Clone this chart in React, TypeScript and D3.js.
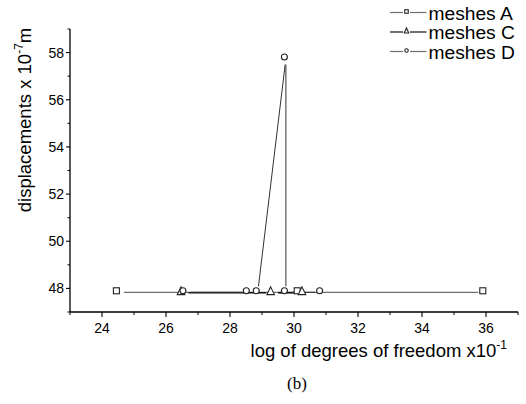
import React from "react";
import * as d3 from "d3";

const xMajorTicks = [24, 26, 28, 30, 32, 34, 36];
const xMinorTicks = [23, 25, 27, 29, 31, 33, 35, 37];
const yMajorTicks = [48, 50, 52, 54, 56, 58];
const yMinorTicks = [47, 49, 51, 53, 55, 57, 59];

const meshesAx = [24.45, 30.1, 35.9];
const meshesAy = [47.9, 47.9, 47.9];
const meshesCx = [26.47, 29.27, 30.25];
const meshesCy = [47.88, 47.88, 47.88];
const meshesDx = [26.53, 28.51, 28.82, 29.7, 29.7, 30.8];
const meshesDy = [47.9, 47.9, 47.9, 57.81, 47.9, 47.9];

const W = 526;
const H = 404;
const x = d3.scaleLinear().domain([23, 37]).range([70, 518]);
const y = d3.scaleLinear().domain([47, 59]).range([312, 29]);

type Marker = "square" | "triangle" | "circle";

function gapSegments(xs: number[], ys: number[], gap: number) {
  const segs: [number, number, number, number][] = [];
  for (let i = 0; i < xs.length - 1; i++) {
    const x1 = x(xs[i]), y1 = y(ys[i]), x2 = x(xs[i + 1]), y2 = y(ys[i + 1]);
    const dx = x2 - x1, dy = y2 - y1;
    const len = Math.hypot(dx, dy);
    if (len <= 2 * gap) continue;
    const ux = dx / len, uy = dy / len;
    segs.push([x1 + ux * gap, y1 + uy * gap, x2 - ux * gap, y2 - uy * gap]);
  }
  return segs;
}

function MarkerShape({ kind, cx, cy, s }: { kind: Marker; cx: number; cy: number; s: number }) {
  const common = { fill: "white", stroke: "#222", strokeWidth: 1.1 };
  if (kind === "square") return <rect x={cx - s / 2} y={cy - s / 2} width={s} height={s} {...common} />;
  if (kind === "circle") return <circle cx={cx} cy={cy} r={s / 2} {...common} />;
  const h = s * 0.9;
  return (
    <path
      d={`M${cx},${cy - h / 2 - 1}L${cx + s / 2},${cy + h / 2}L${cx - s / 2},${cy + h / 2}Z`}
      {...common}
    />
  );
}

const series: { name: string; xs: number[]; ys: number[]; marker: Marker; color: string; width: number }[] = [
  { name: "meshes A", xs: meshesAx, ys: meshesAy, marker: "square", color: "#6f6f6f", width: 1.3 },
  { name: "meshes C", xs: meshesCx, ys: meshesCy, marker: "triangle", color: "#111", width: 1.7 },
  { name: "meshes D", xs: meshesDx, ys: meshesDy, marker: "circle", color: "#333", width: 1 },
];

const legendColors = ["#6f6f6f", "#111", "#6f6f6f"];

export default function App() {
  const font = "Arial, 'Liberation Sans', Helvetica, sans-serif";
  return (
    <svg
      width={W}
      height={H}
      style={{ position: "absolute", left: 0, top: 0, background: "white" }}
      fontFamily={font}
    >
      <rect x={0} y={0} width={W} height={H} fill="white" />
      <g transform="translate(1.5,1.5)">
        {series.map((s) =>
          gapSegments(s.xs, s.ys, 6).map((g, i) => (
            <line key={s.name + i} x1={g[0]} y1={g[1]} x2={g[2]} y2={g[3]} stroke={s.color} strokeWidth={s.width} />
          ))
        )}
      </g>
      {series.map((s) =>
        s.xs.map((v, i) => (
          <MarkerShape key={s.name + "m" + i} kind={s.marker} cx={x(v)} cy={y(s.ys[i])} s={s.marker === "triangle" ? 7.5 : 6} />
        ))
      )}
      <line x1={70} y1={y(59)} x2={70} y2={312} stroke="#000" strokeWidth={1.3} />
      <line x1={70} y1={312} x2={x(37)} y2={312} stroke="#000" strokeWidth={1.3} />
      {yMajorTicks.map((t) => (
        <g key={"ym" + t}>
          <line x1={66} x2={70} y1={y(t)} y2={y(t)} stroke="#000" strokeWidth={1.1} />
          <text x={64} y={y(t)} dy="0.36em" textAnchor="end" fontSize={14}>
            {t}
          </text>
        </g>
      ))}
      {yMinorTicks.map((t) => (
        <line key={"yn" + t} x1={67.5} x2={70} y1={y(t)} y2={y(t)} stroke="#000" strokeWidth={1} />
      ))}
      {xMajorTicks.map((t) => (
        <g key={"xm" + t}>
          <line x1={x(t)} x2={x(t)} y1={312} y2={317} stroke="#000" strokeWidth={1.1} />
          <text x={x(t)} y={333} textAnchor="middle" fontSize={14}>
            {t}
          </text>
        </g>
      ))}
      {xMinorTicks.map((t) => (
        <line key={"xn" + t} x1={x(t)} x2={x(t)} y1={312} y2={315} stroke="#000" strokeWidth={1} />
      ))}
      <text x={507} y={357} textAnchor="end" fontSize={18.5}>
        log of degrees of freedom x10
        <tspan fontSize={12} dy={-8}>-1</tspan>
      </text>
      <text transform="translate(31,120) rotate(-90)" textAnchor="middle" fontSize={18.5}>
        displacements x 10
        <tspan fontSize={12} dy={-8}>-7</tspan>
        <tspan dy={8}>m</tspan>
      </text>
      {series.map((s, i) => {
        const ly = 12.5 + i * 19.5;
        const mx = 406.5;
        return (
          <g key={"lg" + i}>
            <line x1={390} x2={mx - 3.5} y1={ly} y2={ly} stroke={legendColors[i]} strokeWidth={1.2} />
            <line x1={mx + 3.5} x2={426.5} y1={ly} y2={ly} stroke={legendColors[i]} strokeWidth={1.2} />
            <MarkerShape kind={s.marker} cx={mx} cy={ly - 1} s={s.marker === "triangle" ? 4.5 : 3.5} />
            <text x={428.5} y={ly + 7} fontSize={19.2}>
              {s.name}
            </text>
          </g>
        );
      })}
      <text x={297} y={389} textAnchor="middle" fontSize={17} fontFamily="'Liberation Serif', 'Times New Roman', serif">
        (b)
      </text>
    </svg>
  );
}
